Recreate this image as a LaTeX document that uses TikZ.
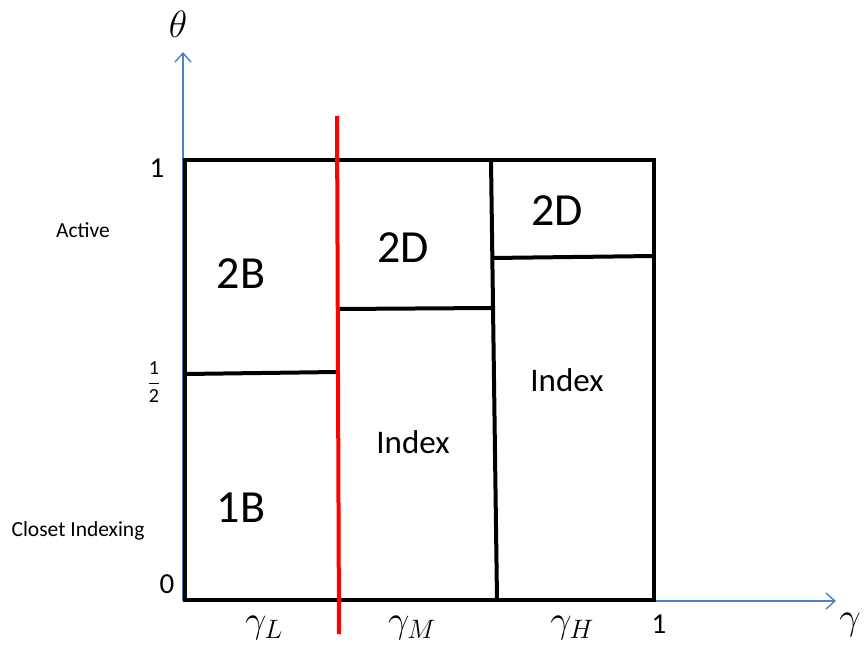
\RequirePackage{fix-cm}
\documentclass[tikz,border=0pt]{standalone}
\usepackage{fontspec}
\setmainfont{Carlito}
\usetikzlibrary{arrows.meta}
\definecolor{axisblue}{RGB}{79,129,189}
\tikzset{
  axisline/.style={draw=axisblue, line width=1.4pt, -{Straight Barb[length=9pt,width=16pt,line width=1.4pt]}},
  boxline/.style={draw=black, line width=4pt},
  redline/.style={draw=red, line width=4pt},
  region/.style={font=\fontsize{46}{52}\selectfont, inner sep=0pt},
  idx/.style={font=\fontsize{33}{38}\selectfont, inner sep=0pt},
  tick/.style={font=\fontsize{29}{34}\selectfont, inner sep=0pt},
  side/.style={font=\fontsize{21.5}{25}\selectfont, inner sep=0pt},
  mlabel/.style={font=\fontsize{38}{44}\selectfont, inner sep=0pt}
}
\begin{document}
\begin{tikzpicture}[x=1pt,y=-1pt]
\useasboundingbox (0,0) rectangle (866,650);
% axes
\coordinate (O) at (183,601);
\coordinate (ytip) at (183,52);
\coordinate (xtip) at (836,601);
\draw[axisline] (O) -- (ytip);
\draw[axisline] (O) -- (xtip);
% box corners
\coordinate (tl) at (185,160);
\coordinate (tr) at (654,160);
\coordinate (br) at (654,600);
\coordinate (bl) at (185,600);
\draw[boxline, line join=miter] (tl) -- (tr) -- (br) -- (bl) -- cycle;
% inner lines
\coordinate (h1a) at (185,374);
\coordinate (h1b) at (337,372);
\draw[boxline] (h1a) -- (h1b);
\coordinate (v2a) at (491,160);
\coordinate (v2b) at (497,600);
\draw[boxline] (v2a) -- (v2b);
\coordinate (h2a) at (337,309);
\coordinate (h2b) at (492,308);
\draw[boxline] (h2a) -- (h2b);
\coordinate (h3a) at (492,258);
\coordinate (h3b) at (654,256);
\draw[boxline] (h3a) -- (h3b);
% red line
\coordinate (ra) at (337,116);
\coordinate (rb) at (339,634);
\draw[redline] (ra) -- (rb);
% region labels
\node[region] (n2B) at (241,274) {2B};
\node[region] (n1B) at (241,508) {1B};
\node[region] (n2Dm) at (403,248) {2D};
\node[region] (n2Dr) at (557,211) {2D};
\node[idx] (nIm) at (413,442) {Index};
\node[idx] (nIr) at (567,380) {Index};
% ticks
\node[tick] (t1) at (157,168) {1};
\node[tick] (t0) at (167,584) {0};
\node[tick] (tx1) at (659,624) {1};
\node[font=\fontsize{20}{24}\selectfont, inner sep=0pt] (thalf) at (154,382) {$\displaystyle\frac{\mbox{1}}{\mbox{2}}$};
% side texts
\node[side] (act) at (83,230) {Active};
\node[side] (clo) at (78,531) {Closet Indexing};
% math labels
\node[mlabel] (gL) at (264,628) {$\gamma_L$};
\node[mlabel] (gM) at (412,628) {$\gamma_M$};
\node[mlabel] (gH) at (572,628) {$\gamma_H$};
\node[mlabel] (gg) at (850,625) {$\gamma$};
\node[mlabel] (th) at (178,24) {$\theta$};
\end{tikzpicture}
\end{document}
